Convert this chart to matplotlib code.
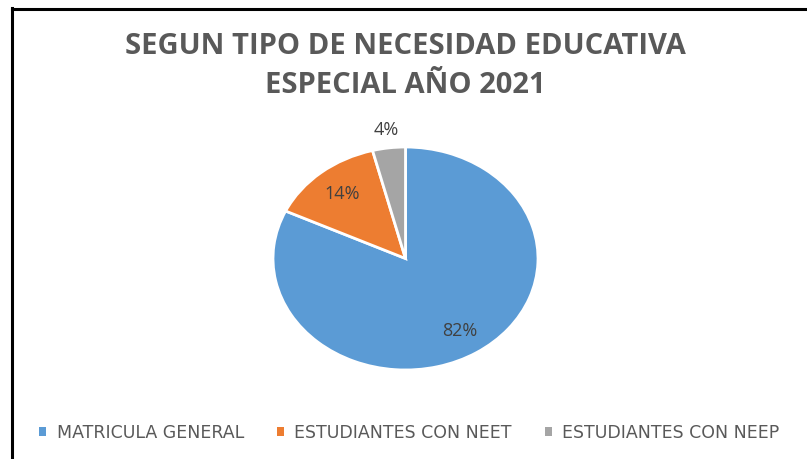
import numpy as np
import matplotlib.pyplot as plt
from matplotlib.patches import Patch

# Data
categories = ["MATRICULA GENERAL", "ESTUDIANTES CON NEET", "ESTUDIANTES CON NEEP"]
values = [82, 14, 4]
colors = ["#5B9BD5", "#ED7D31", "#A5A5A5"]
label_dist = [0.77, 0.75, 1.16]

title = "SEGUN TIPO DE NECESIDAD EDUCATIVA\nESPECIAL AÑO 2021"

fig = plt.figure(figsize=(8.07, 4.59), dpi=100)

# frame around the chart (top and left edges visible)
fig.add_artist(plt.Line2D([12 / 807, 12 / 807], [0, 1 - 8 / 459], color="black", lw=2.2))
fig.add_artist(plt.Line2D([12 / 807, 1], [1 - 9 / 459, 1 - 9 / 459], color="black", lw=2.2))

fig.text(0.5025, 1 - 66 / 459, title, ha="center", va="center", fontsize=21,
         fontweight="bold", color="#595959", family="Open Sans", linespacing=1.45)

# pie drawn slightly wider than tall, like the reference
ax = fig.add_axes([273 / 807, 89 / 459, 265 / 807, 223 / 459])
wedges, texts = ax.pie(values, colors=colors, startangle=90, counterclock=False,
                       wedgeprops=dict(edgecolor="white", linewidth=2))
ax.set_aspect("auto")
ax.set_xlim(-1, 1)
ax.set_ylim(-1, 1)

for w, v, d in zip(wedges, values, label_dist):
    ang = np.deg2rad((w.theta1 + w.theta2) / 2)
    ax.text(d * np.cos(ang), d * np.sin(ang), f"{v}%", ha="center", va="center",
            fontsize=13, color="#404040", family="Open Sans")

handles = [Patch(facecolor=c, edgecolor="none") for c in colors]
leg = fig.legend(handles, categories, loc="center", bbox_to_anchor=(0.5074, 1 - 433 / 459),
                 ncol=3, frameon=False, handlelength=0.4, handleheight=0.4,
                 handletextpad=0.6, columnspacing=1.9,
                 prop={"family": "DejaVu Sans", "size": 12.5})
for t in leg.get_texts():
    t.set_color("#595959")

fig.savefig("out.png", dpi=100)
